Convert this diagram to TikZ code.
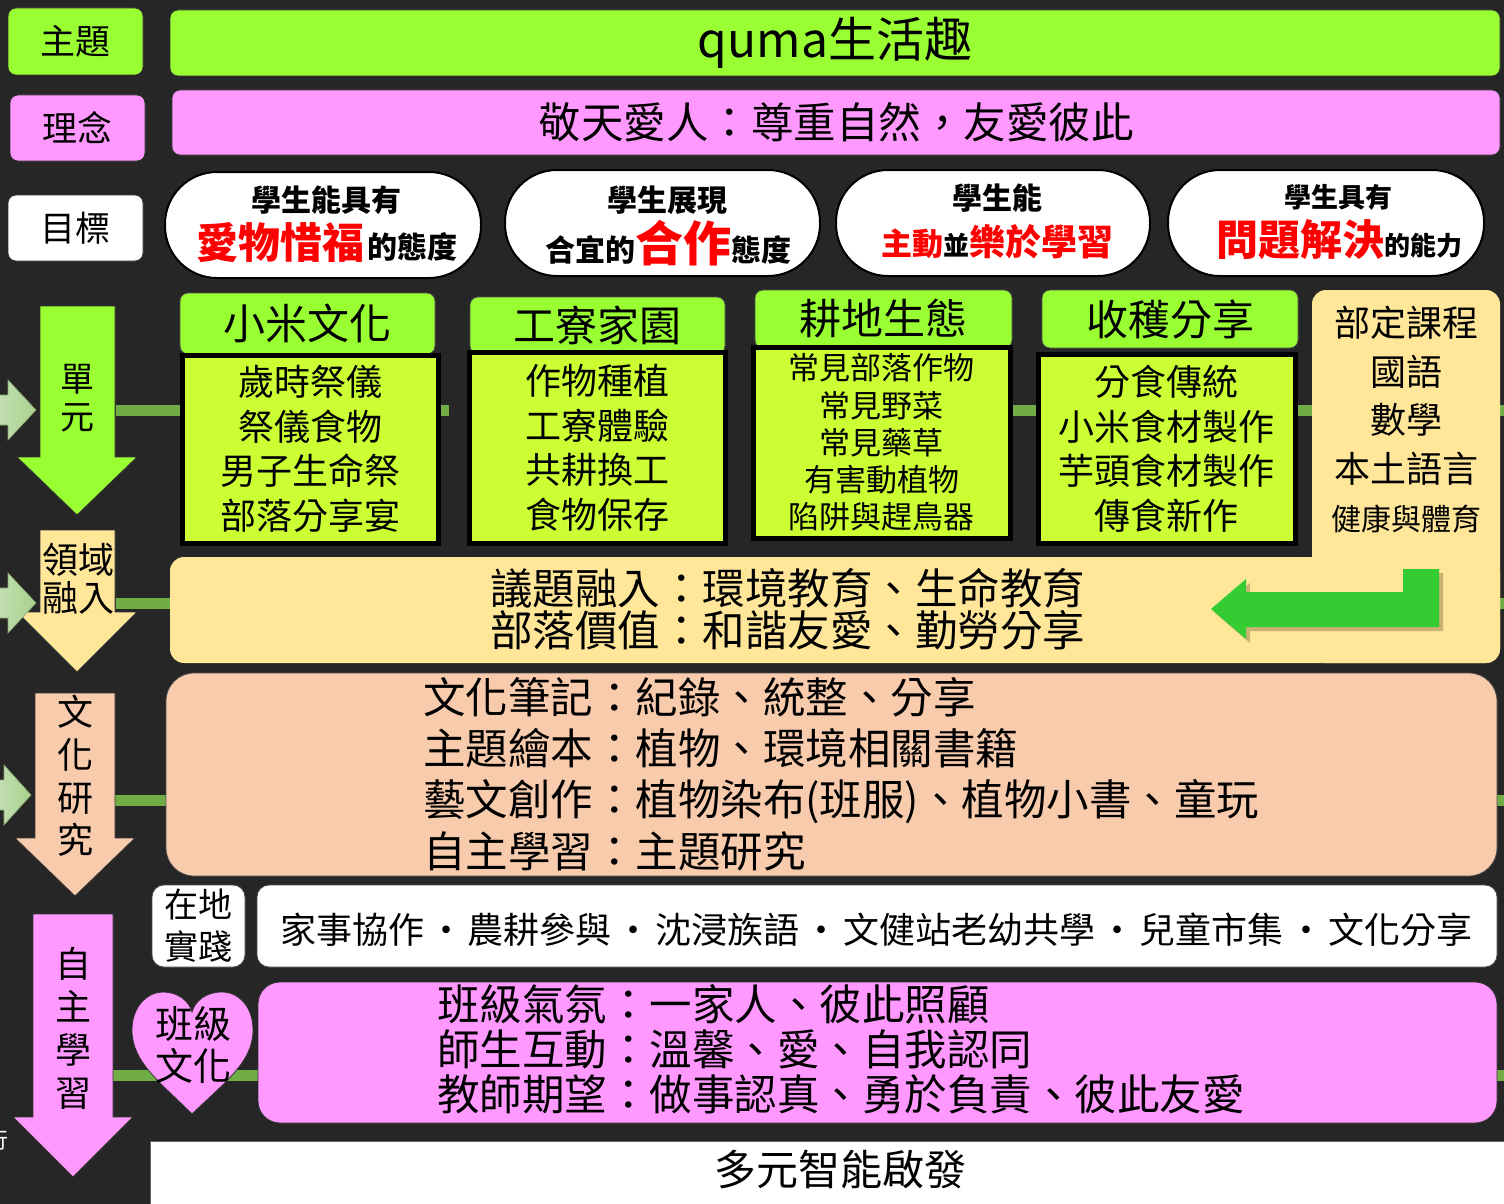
\documentclass[tikz,border=0pt]{standalone}
\usepackage{fontspec}
\setmainfont{Noto Sans CJK TC}
\definecolor{bg}{HTML}{262626}
\definecolor{grn}{HTML}{99FF33}
\definecolor{lime}{HTML}{CCFF33}
\definecolor{pnk}{HTML}{FF99FF}
\definecolor{ylw}{HTML}{FFE699}
\definecolor{pch}{HTML}{F8CBAD}
\definecolor{conn}{HTML}{70AD47}
\definecolor{lgA}{HTML}{C5E0B4}
\definecolor{lgB}{HTML}{A9D18E}
\definecolor{agrn}{HTML}{33CC33}
\definecolor{shd}{HTML}{A8905A}
\newcommand\fs[2]{\fontsize{#1}{#2}\selectfont}
\newcommand\sepdot{\hspace{4pt}・\hspace{4pt}}
\newcommand\bx[7]{\node[#2, minimum width={(#5-#3)*1pt}, minimum height={(#6-#4)*1pt}] (#1) at ({(#3+#5)/2},{(#4+#6)/2}) {#7};}
\tikzset{
  base/.style={inner sep=0pt, outer sep=0pt},
  lbl/.style={base, draw=black!80, line width=0.8pt, rounded corners=8pt},
  goal/.style={base, fill=white, draw=black, line width=2pt, rounded corners=52pt},
  hdr/.style={base, fill=grn, draw=black!70, line width=0.8pt, rounded corners=8pt},
  body/.style={base, fill=lime, draw=black, line width=5pt},
  ylwbox/.style={base, fill=ylw, rounded corners=14pt},
  wbox/.style={base, fill=white, draw=black!70, line width=0.8pt, rounded corners=12pt},
  txt/.style={inner sep=0pt, outer sep=0pt},
  conn/.style={draw=conn, line width=11pt},
  bigarrow/.style={draw=black!80, line width=0.8pt},
  lgarrow/.style={left color=lgA, right color=lgB, draw=lgB!80!black, line width=0.6pt},
}
\begin{document}
\begin{tikzpicture}[x=1pt,y=-1pt]
\fill[bg] (0,0) rectangle (1504,1204);
\useasboundingbox (0,0) rectangle (1504,1204);

% connector bars (behind)
\draw[conn] (116,410) -- (183,410);
\draw[conn] (436,410) -- (449,410);
\draw[conn] (1010,410) -- (1038,410);
\draw[conn] (1294,410) -- (1314,410);
\draw[conn] (1497,410) -- (1504,410);
\draw[conn] (116,603) -- (173,603);
\draw[conn] (1497,603) -- (1504,603);
\draw[conn] (114,800) -- (170,800);
\draw[conn] (1494,800) -- (1504,800);
\draw[conn] (112,1075) -- (262,1075);
\draw[conn] (1494,1075) -- (1504,1075);

% top rows
\bx{lblTheme}{lbl, fill=grn}{8}{8}{143}{75}{\fs{35}{40}主題}
\bx{theme}{lbl, fill=grn}{170}{10}{1500}{76}{\fs{48}{54}quma生活趣}
\bx{lblIdea}{lbl, fill=pnk}{10}{95}{145}{161}{\fs{35}{40}理念}
\bx{idea}{lbl, fill=pnk}{172}{90}{1500}{155}{\fs{42.5}{48}敬天愛人：尊重自然，友愛彼此}
\bx{lblGoal}{lbl, fill=white}{8}{195}{143}{261}{\fs{35}{40}目標}

% goals
\bx{g1}{goal}{165}{172}{481}{278}{}
\bx{g2}{goal}{505}{170}{820}{276}{}
\bx{g3}{goal}{836}{170}{1150}{276}{}
\bx{g4}{goal}{1168}{170}{1484}{276}{}
\node[txt, font=\bfseries] (g1a) at (326,200) {\fs{30}{34}學生能具有};
\node[txt, font=\bfseries] (g1b) at (327,243) {{\color{red}\fs{42}{46}愛物惜福} \fs{30}{34}的態度};
\node[txt, font=\bfseries] (g2a) at (667,200) {\fs{30}{34}學生展現};
\node[txt, font=\bfseries] (g2b) at (668,243) {\fs{30}{34}合宜的{\color{red}\fs{48}{52}合作}態度};
\node[txt, font=\bfseries] (g3a) at (997,198) {\fs{30}{34}學生能};
\node[txt, font=\bfseries] (g3b) at (997,242) {{\color{red}\fs{31}{34}主動}\fs{26}{30}並{\color{red}\fs{36}{40}樂於學習}};
\node[txt, font=\bfseries] (g4a) at (1338,197) {\fs{27}{30}學生具有};
\node[txt, font=\bfseries] (g4b) at (1339,240) {{\color{red}\fs{42}{46}問題解決}\fs{26}{30}的能力};

% units
\bx{h1}{hdr}{180}{293}{435}{354}{\fs{42}{46}小米文化}
\bx{b1}{body}{182}{355}{438}{543}{}
\node[txt, align=center, font=\fs{36}{44.5}] (t1) at (b1) {歲時祭儀\\祭儀食物\\男子生命祭\\部落分享宴};
\bx{h2}{hdr}{470}{297}{725}{354}{\fs{42}{46}工寮家園}
\bx{b2}{body}{469}{352}{725}{543}{}
\node[txt, align=center, font=\fs{36}{44.5}] (t2) at (b2) {作物種植\\工寮體驗\\共耕換工\\食物保存};
\bx{h3}{hdr}{755}{290}{1012}{348}{\fs{42}{46}耕地生態}
\bx{b3}{body}{753}{347}{1010}{538}{}
\node[txt, align=center, font=\fs{31}{37.2}] (t3) at (b3) {常見部落作物\\常見野菜\\常見藥草\\有害動植物\\陷阱與趕鳥器};
\bx{h4}{hdr}{1042}{290}{1298}{348}{\fs{42}{46}收穫分享}
\bx{b4}{body}{1038}{354}{1295}{543}{}
\node[txt, align=center, font=\fs{36}{44.5}] (t4) at (b4) {分食傳統\\小米食材製作\\芋頭食材製作\\傳食新作};

% yellow L area
\bx{req}{ylwbox}{1312}{290}{1500}{663}{}
\bx{issue}{ylwbox}{170}{557}{1500}{663}{}
\node[txt, align=center, font=\fs{36}{48.5}] (reqt) at (1406,420) {部定課程\\國語\\數學\\本土語言\\{\fs{30}{50}健康與體育}};
\node[txt, align=left, anchor=west, font=\fs{42.5}{42}] (issuet) at (490,609) {議題融入：環境教育、生命教育\\部落價值：和諧友愛、勤勞分享};
\fill[shd, opacity=0.6] ([shift={(4,4)}]1439,569) -- ++(0,58) -- ++(-193,0) -- ++(0,12) -- ++(-35,-30) -- ++(35,-30) -- ++(0,13) -- ++(157,0) -- ++(0,-23) -- cycle;
\fill[agrn] (1439,569) -- (1439,627) -- (1246,627) -- (1246,639) -- (1211,609) -- (1246,579) -- (1246,592) -- (1403,592) -- (1403,569) -- cycle;

% culture notes
\bx{cult}{base, fill=pch, draw=black!70, line width=0.8pt, rounded corners=28pt}{166}{673}{1497}{876}{}
\node[txt, align=left, anchor=west, font=\fs{42.5}{51.3}] (cultt) at (423,774) {文化筆記：紀錄、統整、分享\\主題繪本：植物、環境相關書籍\\藝文創作：植物染布(班服)、植物小書、童玩\\自主學習：主題研究};

% local practice
\bx{local}{wbox, align=center, font=\fs{34}{42}}{152}{885}{245}{967}{在地\\實踐}
\bx{practice}{wbox}{257}{885}{1497}{967}{}
\node[txt] (practicet) at (876,930) {\fs{36}{40}家事協作\sepdot 農耕參與\sepdot 沈浸族語\sepdot 文健站老幼共學\sepdot 兒童市集\sepdot 文化分享};

% class culture
\draw[fill=pnk, draw=black!80, line width=0.8pt] (192,1114) .. controls (160,1082) and (132,1062) .. (132,1030) .. controls (132,1006) and (148,992) .. (163,992) .. controls (178,992) and (189,1001) .. (192,1012) .. controls (195,1001) and (206,992) .. (222,992) .. controls (238,992) and (253,1006) .. (253,1030) .. controls (253,1062) and (225,1082) .. (192,1114) -- cycle;
\node[txt, align=center, font=\fs{38}{42}] (heart) at (193,1045) {班級\\文化};
\bx{cls}{base, fill=pnk, draw=black!80, line width=0.8pt, rounded corners=22pt}{258}{982}{1497}{1123}{}
\node[txt, align=left, anchor=west, font=\fs{42.5}{45}] (clst) at (437,1049) {班級氣氛：一家人、彼此照顧\\師生互動：溫馨、愛、自我認同\\教師期望：做事認真、勇於負責、彼此友愛};

% multiple intelligences
\bx{mi}{base, fill=white, draw=black!60, line width=0.8pt}{150}{1141}{1520}{1215}{}
\node[txt] (mit) at (840,1170) {\fs{42}{46}多元智能啟發};

% left column arrows
\draw[bigarrow, fill=grn] (40,306) -- (115,306) -- (115,457) -- (137,457) -- (77,515) -- (17,457) -- (40,457) -- cycle;
\node[txt, align=center, font=\fs{34}{38}] (aUnit) at (77,398) {單\\元};
\draw[bigarrow, fill=ylw] (40,530) -- (115,530) -- (115,612) -- (137,612) -- (77,672) -- (17,612) -- (40,612) -- cycle;
\node[txt, align=center, font=\fs{36}{38}] (aField) at (78,579) {領域\\融入};
\draw[bigarrow, fill=pch] (35,693) -- (115,693) -- (115,838) -- (135,838) -- (75,896) -- (15,838) -- (35,838) -- cycle;
\node[txt, align=center, font=\fs{36}{42.7}] (aCult) at (75,776) {文\\化\\研\\究};
\draw[bigarrow, fill=pnk] (33,914) -- (113,914) -- (113,1117) -- (133,1117) -- (73,1177) -- (13,1117) -- (33,1117) -- cycle;
\node[txt, align=center, font=\fs{36}{43}] (aSelf) at (73,1028) {自\\主\\學\\習};

% light green side arrows
\draw[lgarrow] (-5,395) -- (8,395) -- (8,380) -- (36,410) -- (8,440) -- (8,425) -- (-5,425) -- cycle;
\draw[lgarrow] (-5,588) -- (8,588) -- (8,573) -- (36,603) -- (8,633) -- (8,618) -- (-5,618) -- cycle;
\draw[lgarrow] (-5,780) -- (4,780) -- (4,765) -- (31,795) -- (4,825) -- (4,810) -- (-5,810) -- cycle;

% cut-off glyph at left edge
\node[txt, text=white] (cut) at (-2,1140) {\fs{22}{24}行};
\end{tikzpicture}
\end{document}
